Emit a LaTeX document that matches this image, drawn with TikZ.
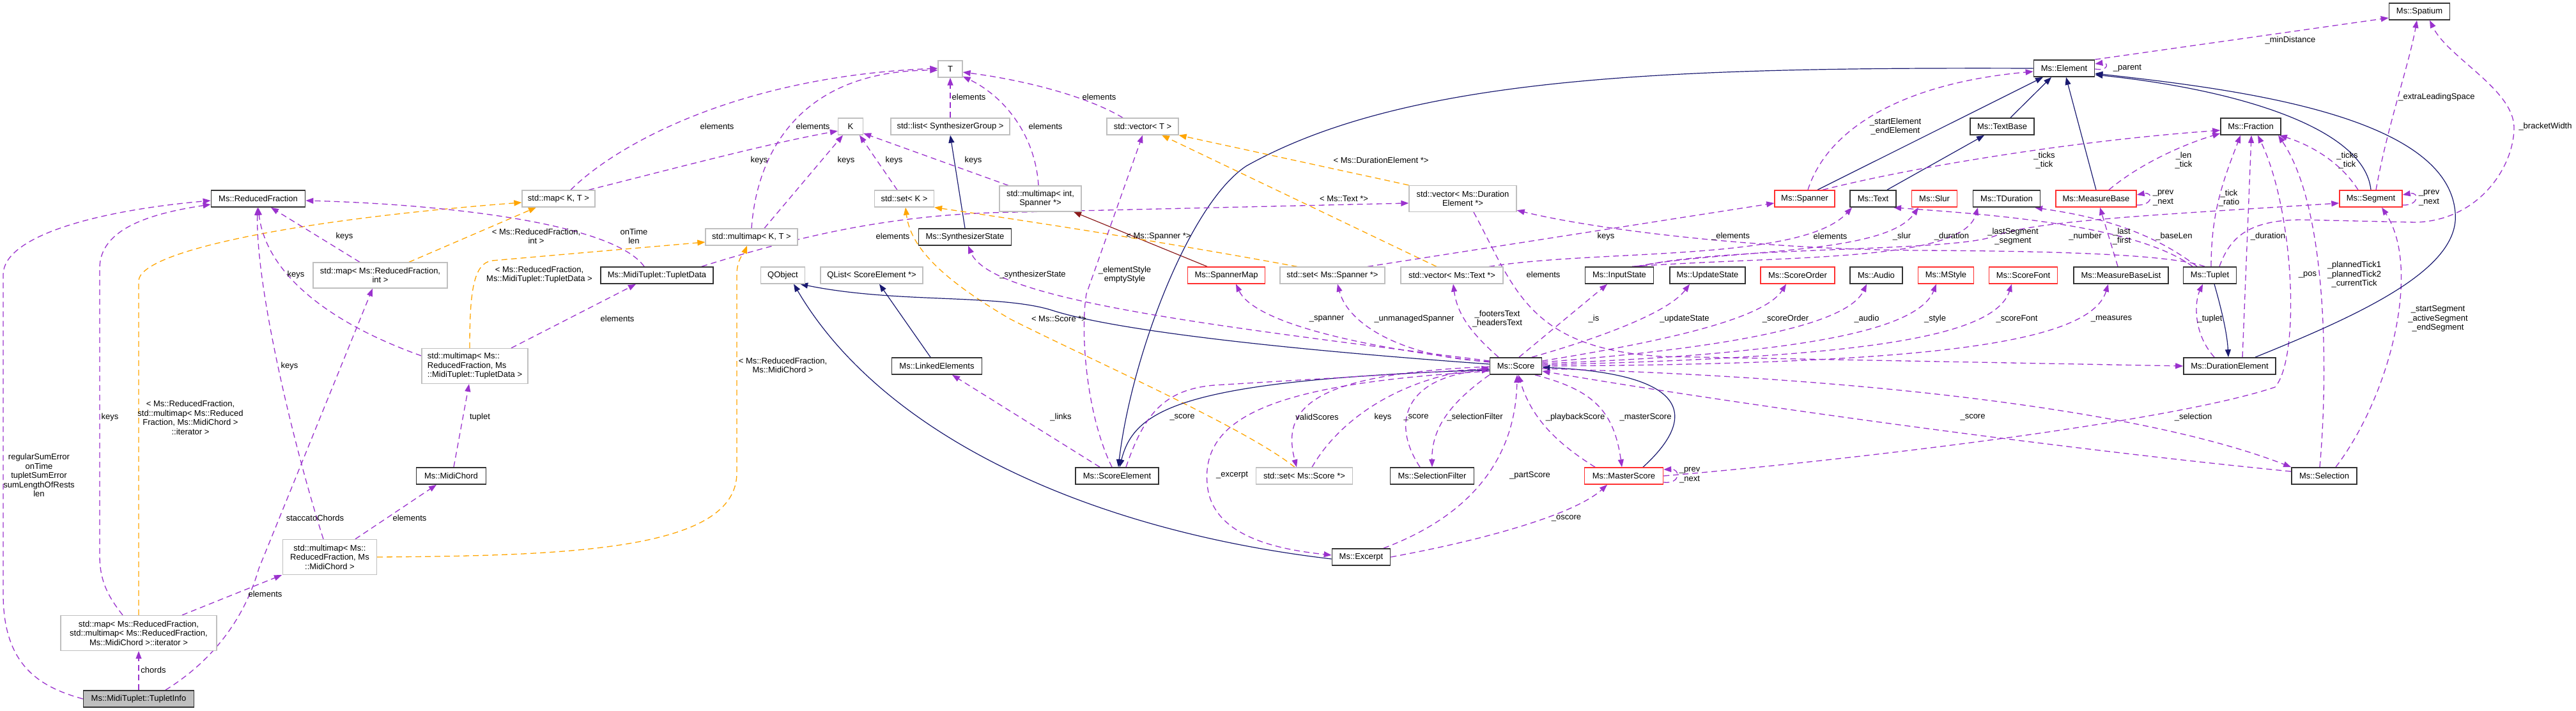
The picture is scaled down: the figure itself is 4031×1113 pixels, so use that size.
\documentclass[tikz,border=0pt]{standalone}
\usepackage{fontspec}
\setmainfont{Liberation Sans}
\usetikzlibrary{arrows.meta}
\pgfdeclarelayer{background}
\pgfsetlayers{background,main}
\definecolor{purp}{HTML}{9A32CD}
\definecolor{orng}{HTML}{FFA500}
\definecolor{mblue}{HTML}{191970}
\definecolor{fbrick}{HTML}{8B1A1A}
\definecolor{gbord}{HTML}{BFBFBF}
\definecolor{rbord}{HTML}{FF3030}
\definecolor{dbord}{HTML}{333333}
\begin{document}
\begin{tikzpicture}[x=1pt,y=-1pt,
  font=\fontsize{13}{14.5}\selectfont,
  nbase/.style={draw, minimum height=26pt, inner sep=0pt, align=center, fill=white},
  ndoc/.style={nbase, draw=dbord, line width=1.7pt},
  ngray/.style={nbase, draw=gbord, line width=1.3pt},
  nred/.style={nbase, draw=rbord, line width=1.5pt},
  lbl/.style={align=center, inner sep=0pt},
  tipa/.style={-{Triangle[length=12pt,width=9pt]}},
  euse/.style={draw=purp, line width=1.3pt, dash pattern=on 9pt off 6pt, tipa},
  etmpl/.style={draw=orng, line width=1.3pt, dash pattern=on 9pt off 6pt, tipa},
  einh/.style={draw=mblue, line width=1.2pt, tipa},
  eprot/.style={draw=fbrick, line width=1.2pt, tipa}
]
\path[use as bounding box] (0,0) rectangle (4031,1113);

% ---------- nodes ----------
\node[ndoc, minimum width=147pt] (rf) at (404,311) {Ms::ReducedFraction};
\node[ngray, minimum width=114pt] (mapKT) at (874,311) {std::map< K, T >};
\node[ngray, minimum width=210pt, minimum height=40pt] (mapRFint) at (595,431) {std::map< Ms::ReducedFraction,\\ int >};
\node[ngray, minimum width=166pt, minimum height=55pt, align=left] (mmRFTD) at (743,573) {std::multimap< Ms::\\ReducedFraction, Ms\\::MidiTuplet::TupletData >};
\node[ndoc, minimum width=176pt] (td) at (1028,431) {Ms::MidiTuplet::TupletData};
\node[ndoc, minimum width=109pt] (midichord) at (706,745) {Ms::MidiChord};
\node[ngray, minimum width=147pt, minimum height=55pt] (mmRFMC) at (516,872) {std::multimap< Ms::\\ReducedFraction, Ms\\::MidiChord >};
\node[ngray, minimum width=244pt, minimum height=55pt] (mapRFit) at (217,991) {std::map< Ms::ReducedFraction,\\ std::multimap< Ms::ReducedFraction,\\ Ms::MidiChord >::iterator >};
\node[ndoc, minimum width=173pt, fill=gbord] (ti) at (217,1094) {Ms::MidiTuplet::TupletInfo};
\node[ngray, minimum width=38pt] (T) at (1487,108) {T};
\node[ngray, minimum width=39pt] (K) at (1331,198) {K};
\node[ngray, minimum width=186pt] (listSG) at (1487,198) {std::list< SynthesizerGroup >};
\node[ngray, minimum width=112pt] (vecT) at (1788,198) {std::vector< T >};
\node[ngray, minimum width=93pt] (setK) at (1415,311) {std::set< K >};
\node[ngray, minimum width=128pt, minimum height=40pt] (mmIntSp) at (1628,311) {std::multimap< int,\\ Spanner *>};
\node[ngray, minimum width=144pt] (mmKT) at (1176,371) {std::multimap< K, T >};
\node[ndoc, minimum width=145pt] (synth) at (1510,371) {Ms::SynthesizerState};
\node[ngray, minimum width=69pt] (qobj) at (1225,431) {QObject};
\node[ngray, minimum width=160pt] (qlist) at (1364,431) {QList< ScoreElement *>};
\node[nred, minimum width=121pt] (spmap) at (1919,431) {Ms::SpannerMap};
\node[ndoc, minimum width=141pt] (linked) at (1466,573) {Ms::LinkedElements};
\node[ndoc, minimum width=130pt] (scoreel) at (1748,745) {Ms::ScoreElement};
\node[ngray, minimum width=151pt] (setScore) at (2041,745) {std::set< Ms::Score *>};
\node[ngray, minimum width=168pt, minimum height=41pt] (vecDE) at (2289,311) {std::vector< Ms::Duration\\Element *>};
\node[nred, minimum width=94pt] (spanner) at (2824,311) {Ms::Spanner};
\node[ndoc, minimum width=72pt] (text) at (2931,311) {Ms::Text};
\node[ngray, minimum width=164pt] (setSp) at (2085,431) {std::set< Ms::Spanner *>};
\node[ngray, minimum width=160pt] (vecText) at (2272,431) {std::vector< Ms::Text *>};
\node[ndoc, minimum width=107pt] (inputst) at (2534,431) {Ms::InputState};
\node[ndoc, minimum width=118pt] (updst) at (2672,431) {Ms::UpdateState};
\node[nred, minimum width=116pt] (scoreorder) at (2813,431) {Ms::ScoreOrder};
\node[ndoc, minimum width=82pt] (audio) at (2936,431) {Ms::Audio};
\node[ndoc, minimum width=81pt] (score) at (2372,573) {Ms::Score};
\node[ndoc, minimum width=131pt] (selfilter) at (2241,745) {Ms::SelectionFilter};
\node[nred, minimum width=123pt] (master) at (2541,745) {Ms::MasterScore};
\node[ndoc, minimum width=91pt] (excerpt) at (2130,872) {Ms::Excerpt};
\node[ndoc, minimum width=95pt] (spatium) at (3786,18) {Ms::Spatium};
\node[ndoc, minimum width=95pt] (element) at (3230,107) {Ms::Element};
\node[ndoc, minimum width=100pt] (textbase) at (3133,198) {Ms::TextBase};
\node[ndoc, minimum width=94pt] (fraction) at (3522,198) {Ms::Fraction};
\node[nred, minimum width=71pt] (slur) at (3027,311) {Ms::Slur};
\node[ndoc, minimum width=105pt] (tdur) at (3140,311) {Ms::TDuration};
\node[nred, minimum width=126pt] (mbase) at (3280,311) {Ms::MeasureBase};
\node[nred, minimum width=98pt] (segment) at (3710,311) {Ms::Segment};
\node[nred, minimum width=87pt] (mstyle) at (3045,431) {Ms::MStyle};
\node[nred, minimum width=107pt] (scorefont) at (3166,431) {Ms::ScoreFont};
\node[ndoc, minimum width=148pt] (mbl) at (3319,431) {Ms::MeasureBaseList};
\node[ndoc, minimum width=83pt] (tuplet) at (3458,431) {Ms::Tuplet};
\node[ndoc, minimum width=144pt] (durel) at (3489,573) {Ms::DurationElement};
\node[ndoc, minimum width=102pt] (selection) at (3637,745) {Ms::Selection};

% ---------- labels ----------
\node[lbl] (l1) at (61,744) {regularSumError\\onTime\\tupletSumError\\sumLengthOfRests\\len};
\node[lbl] (l2) at (172,653) {keys};
\node[lbl] (l3) at (298,654) {< Ms::ReducedFraction,\\std::multimap< Ms::Reduced\\Fraction, Ms::MidiChord >\\::iterator >};
\node[lbl] (l4) at (539,370) {keys};
\node[lbl] (l5) at (839,370) {< Ms::ReducedFraction,\\int >};
\node[lbl] (l6) at (992,370) {onTime\\len};
\node[lbl] (l7) at (463,430) {keys};
\node[lbl] (l8) at (966,499) {elements};
\node[lbl] (l9) at (844,430) {< Ms::ReducedFraction,\\Ms::MidiTuplet::TupletData >};
\node[lbl] (l10) at (453,573) {keys};
\node[lbl] (l11) at (641,811) {elements};
\node[lbl] (l12) at (751,653) {tuplet};
\node[lbl] (l13) at (1225,572) {< Ms::ReducedFraction,\\Ms::MidiChord >};
\node[lbl] (l14) at (415,930) {elements};
\node[lbl] (l15) at (240,1049) {chords};
\node[lbl] (l16) at (493,811) {staccatoChords};
\node[lbl] (l17) at (1122,198) {elements};
\node[lbl] (l18) at (1188,251) {keys};
\node[lbl] (l19) at (1272,198) {elements};
\node[lbl] (l20) at (1324,251) {keys};
\node[lbl] (l21) at (1399,251) {keys};
\node[lbl] (l22) at (1523,251) {keys};
\node[lbl] (l23) at (1636,198) {elements};
\node[lbl] (l24) at (1516,152) {elements};
\node[lbl] (l25) at (1720,152) {elements};
\node[lbl] (l28) at (1813,370) {< Ms::Spanner *>};
\node[lbl] (l29) at (1657,499) {< Ms::Score *>};
\node[lbl] (l30) at (2164,653) {keys};
\node[lbl] (l31) at (2061,653) {validScores};
\node[lbl] (l32) at (2216,653) {\_score};
\node[lbl] (l33) at (2308,653) {\_selectionFilter};
\node[lbl] (l34) at (2465,653) {\_playbackScore};
\node[lbl] (l35) at (2575,653) {\_masterScore};
\node[lbl] (l37) at (2644,744) {\_prev\\\_next};
\node[lbl] (l38) at (2394,744) {\_partScore};
\node[lbl] (l39) at (2451,811) {\_oscore};
\node[lbl] (l40) at (1928,744) {\_excerpt};
\node[lbl] (l46) at (1850,653) {\_score};
\node[lbl] (l47) at (1660,653) {\_links};
\node[lbl] (l48) at (1760,430) {\_elementStyle\\emptyStyle};
\node[lbl] (l49) at (1616,430) {\_synthesizerState};
\node[lbl] (l50) at (2076,499) {\_spanner};
\node[lbl] (l51) at (2213,499) {\_unmanagedSpanner};
\node[lbl] (l52) at (2343,499) {\_footersText\\\_headersText};
\node[lbl] (l53) at (2494,499) {\_is};
\node[lbl] (l54) at (2636,499) {\_updateState};
\node[lbl] (l55) at (2794,499) {\_scoreOrder};
\node[lbl] (l56) at (2921,499) {\_audio};
\node[lbl] (l57) at (3028,499) {\_style};
\node[lbl] (l58) at (3156,499) {\_scoreFont};
\node[lbl] (l59) at (3304,499) {\_measures};
\node[lbl] (l60) at (2415,430) {elements};
\node[lbl] (l61) at (1397,370) {elements};
\node[lbl] (l62) at (2161,251) {< Ms::DurationElement *>};
\node[lbl] (l63) at (2103,311) {< Ms::Text *>};
\node[lbl] (l64) at (2708,370) {\_elements};
\node[lbl] (l65) at (2513,370) {keys};
\node[lbl] (l66) at (2864,370) {elements};
\node[lbl] (l67) at (2976,370) {\_slur};
\node[lbl] (l68) at (3054,370) {\_duration};
\node[lbl] (l69) at (3150,370) {\_lastSegment\\\_segment};
\node[lbl] (l70) at (3263,370) {\_number};
\node[lbl] (l71) at (3402,370) {\_baseLen};
\node[lbl] (l72) at (3320,370) {\_last\\\_first};
\node[lbl] (l73) at (3488,310) {\_tick\\\_ratio};
\node[lbl] (l74) at (3549,370) {\_duration};
\node[lbl] (l75) at (3611,430) {\_pos};
\node[lbl] (l76) at (3684,430) {\_plannedTick1\\\_plannedTick2\\\_currentTick};
\node[lbl] (l77) at (3815,499) {\_startSegment\\\_activeSegment\\\_endSegment};
\node[lbl] (l78) at (3432,653) {\_selection};
\node[lbl] (l79) at (3087,653) {\_score};
\node[lbl] (l80) at (3458,499) {\_tuplet};
\node[lbl] (l88) at (2966,198) {\_startElement\\\_endElement};
\node[lbl] (l89) at (3199,251) {\_ticks\\\_tick};
\node[lbl] (l90) at (3417,251) {\_len\\\_tick};
\node[lbl] (l91) at (3673,251) {\_ticks\\\_tick};
\node[lbl] (l92) at (3385,310) {\_prev\\\_next};
\node[lbl] (l93) at (3801,310) {\_prev\\\_next};
\node[lbl] (l94) at (3329,107) {\_parent};
\node[lbl] (l95) at (3584,63) {\_minDistance};
\node[lbl] (l96) at (3813,152) {\_extraLeadingSpace};
\node[lbl] (l97) at (3983,198) {\_bracketWidth};

% ---------- edges ----------
\begin{pgfonlayer}{background}
\draw[euse] (ti.west) .. controls (60,1075) and (5,1040) .. (5,930) -- (5,430) .. controls (5,370) and (150,330) .. ([yshift=-3pt]rf.west);
\draw[euse] ([xshift=-25pt]mapRFit.north) .. controls (170,935) and (156,910) .. (156,870) -- (156,420) .. controls (156,360) and (230,335) .. ([yshift=-9pt]rf.west);
\draw[etmpl] (mapRFit.north) -- (217,440) .. controls (217,395) and (450,345) .. ([yshift=-6pt]mapKT.west);
\draw[euse] ([xshift=-32pt]mapRFint.north) -- ([xshift=20pt]rf.south);
\draw[etmpl] ([xshift=45pt]mapRFint.north) -- ([xshift=-35pt]mapKT.south);
\draw[euse] ([xshift=-20pt]td.north) .. controls (960,350) and (700,320) .. ([yshift=-3pt]rf.east);
\draw[euse] ([yshift=16pt]mmRFTD.west) .. controls (500,500) and (415,420) .. (rf.south);
\draw[euse] ([xshift=57pt]mmRFTD.north) -- ([xshift=-33pt]td.south);
\draw[etmpl] ([xshift=-8pt]mmRFTD.north) .. controls (735,460) and (740,412) .. (770,408) -- ([yshift=-8pt]mmKT.west);
\draw[euse] ([xshift=-10pt]mmRFMC.north) .. controls (460,700) and (400,450) .. ([xshift=-1pt]rf.south);
\draw[euse] ([xshift=40pt]mmRFMC.north) -- ([xshift=-23pt]midichord.south);
\draw[euse] ([xshift=4pt]midichord.north) -- ([xshift=-9pt]mmRFTD.south);
\draw[etmpl] (mmRFMC.east) .. controls (900,870) and (1153,860) .. (1153,740) -- (1153,430) .. controls (1153,405) and (1165,395) .. ([xshift=-7pt]mmKT.south);
\draw[euse] ([xshift=68pt]mapRFit.north) -- ([xshift=-75pt]mmRFMC.south);
\draw[euse] (ti.north) -- (mapRFit.south);
\draw[euse] ([xshift=42pt]ti.north) .. controls (340,1030) and (385,960) .. (405,890) -- ([xshift=-12pt]mapRFint.south);
\draw[euse] ([xshift=19pt]mapKT.north) .. controls (960,230) and (1150,120) .. ([yshift=1pt]T.west);
\draw[euse] ([xshift=47pt]mapKT.north) .. controls (1050,265) and (1200,225) .. ([yshift=-7pt]K.west);
\draw[euse] (mmKT.north) .. controls (1185,230) and (1260,110) .. ([yshift=-2pt]T.west);
\draw[euse] ([xshift=20pt]mmKT.north) -- ([xshift=-12pt]K.south);
\draw[euse] ([xshift=-11pt]setK.north) -- ([xshift=14pt]K.south);
\draw[euse] ([xshift=-50pt]mmIntSp.north) -- ([yshift=3pt]K.south east);
\draw[euse] ([xshift=-3pt]mmIntSp.north) .. controls (1620,210) and (1570,150) .. ([yshift=2pt]T.south east);
\draw[euse] (listSG.north) -- (T.south);
\draw[euse] ([xshift=-31pt]vecT.north) .. controls (1700,150) and (1600,125) .. ([yshift=-5pt]T.east);
\draw[einh] (synth.north) -- (listSG.south);
\draw[eprot] ([xshift=-30pt]spmap.north) -- ([xshift=52pt]mmIntSp.south);
\draw[etmpl] ([xshift=-55pt]setSp.north) .. controls (1800,375) and (1600,345) .. (setK.south east);
\draw[etmpl] ([xshift=-15pt]setScore.north) .. controls (1950,670) and (1700,560) .. (1580,499) .. controls (1480,440) and (1425,390) .. ([xshift=2pt]setK.south);
\draw[euse] ([xshift=12pt]setScore.north) .. controls (2100,650) and (2200,590) .. ([yshift=-3pt]score.west);
\draw[euse] ([yshift=-1pt]score.west) .. controls (2050,585) and (2005,640) .. ([xshift=-12pt]setScore.north);
\draw[euse] ([xshift=-19pt]selfilter.north) .. controls (2175,660) and (2200,590) .. ([yshift=-6pt]score.west);
\draw[euse] (score.south west) .. controls (2270,630) and (2240,670) .. (selfilter.north);
\draw[euse] ([xshift=-45pt]master.north) .. controls (2430,690) and (2395,650) .. ([xshift=4pt]score.south);
\draw[euse] ([xshift=30pt]score.south) .. controls (2490,610) and (2525,640) .. ([xshift=-3pt]master.north);
\draw[einh] ([xshift=30pt]master.north) .. controls (2660,650) and (2640,585) .. ([yshift=-2pt]score.east);
\draw[euse] ([yshift=-10pt]master.east) .. controls (2630,758) and (2630,734) .. ([yshift=10pt]master.east);
\draw[euse] ([xshift=35pt]excerpt.north) .. controls (2320,800) and (2372,700) .. ([xshift=2pt]score.south);
\draw[euse] (excerpt.east) .. controls (2350,840) and (2470,800) .. ([xshift=-26pt]master.south);
\draw[euse] ([yshift=-8pt]score.west) .. controls (2000,600) and (1880,650) .. (1889,757) .. controls (1895,840) and (2000,860) .. ([yshift=3pt]excerpt.west);
\draw[einh] ([yshift=-3pt]excerpt.west) .. controls (1700,830) and (1380,680) .. ([xshift=17pt]qobj.south);
\draw[einh] ([yshift=3pt]score.west) .. controls (2050,550) and (1750,520) .. (1644,485) .. controls (1560,460) and (1400,475) .. ([xshift=-8pt]qobj.south east);
\draw[einh] ([xshift=-10pt]linked.north) -- ([xshift=12pt]qlist.south);
\draw[einh] (element.west) .. controls (2600,105) and (2200,120) .. (1950,260) .. controls (1860,320) and (1770,560) .. ([xshift=2pt]scoreel.north);
\draw[einh] ([yshift=-6pt]score.west) .. controls (1850,595) and (1775,640) .. ([xshift=4pt]scoreel.north);
\draw[euse] ([xshift=14pt]scoreel.north) .. controls (1790,650) and (1820,610) .. (1900,603) -- ([yshift=-4pt]score.west);
\draw[euse] ([xshift=-27pt]scoreel.north) -- ([xshift=24pt]linked.south);
\draw[euse] ([xshift=-8pt]scoreel.north) .. controls (1700,650) and (1690,520) .. (1700,460) -- (vecT.south);
\draw[euse] ([yshift=8pt]score.west) .. controls (1900,510) and (1550,470) .. ([xshift=5pt]synth.south);
\draw[euse] ([yshift=6pt]score.west) .. controls (2100,540) and (1960,500) .. ([xshift=15pt]spmap.south);
\draw[euse] ([yshift=7pt]score.west) .. controls (2200,560) and (2110,510) .. ([xshift=8pt]setSp.south);
\draw[euse] ([xshift=-27pt]score.north) .. controls (2300,520) and (2280,490) .. ([xshift=2pt]vecText.south);
\draw[euse] ([xshift=5pt]score.north) -- ([xshift=-19pt]inputst.south);
\draw[euse] ([xshift=25pt]score.north) .. controls (2500,530) and (2610,490) .. ([xshift=-28pt]updst.south);
\draw[euse] ([yshift=8pt]score.east) .. controls (2600,535) and (2760,500) .. ([xshift=-18pt]scoreorder.south);
\draw[euse] ([yshift=6pt]score.east) .. controls (2700,545) and (2890,510) .. ([xshift=-15pt]audio.south);
\draw[euse] ([yshift=4pt]score.east) .. controls (2800,555) and (3000,520) .. ([xshift=-15pt]mstyle.south);
\draw[euse] ([yshift=2pt]score.east) .. controls (2900,560) and (3120,530) .. ([xshift=-18pt]scorefont.south);
\draw[euse] (score.east) .. controls (3000,570) and (3270,540) .. ([xshift=-20pt]mbl.south);
\draw[euse] ([xshift=17pt]vecDE.south) .. controls (2370,450) and (2390,545) .. (2600,558) -- (durel.west);
\draw[euse] ([xshift=70pt]td.north) .. controls (1250,370) and (1400,333) .. (1600,332) -- ([yshift=-7pt]vecDE.west);
\draw[etmpl] (vecDE.north west) -- (vecT.south east);
\draw[etmpl] ([xshift=-24pt]vecText.north) -- ([xshift=30pt]vecT.south);
\draw[euse] ([xshift=-8pt]tuplet.north) .. controls (3400,400) and (3250,393) .. (3000,392) .. controls (2750,390) and (2500,360) .. ([yshift=3pt]vecDE.south east);
\draw[euse] ([xshift=55pt]setSp.north) -- ([yshift=-7pt]spanner.west);
\draw[euse] ([xshift=58pt]vecText.north) .. controls (2500,390) and (2820,410) .. ([xshift=-33pt]text.south);
\draw[euse] ([xshift=26pt]inputst.north) .. controls (2700,390) and (2950,400) .. ([xshift=-25pt]slur.south);
\draw[euse] ([xshift=20pt]inputst.north) .. controls (2800,400) and (3070,410) .. ([xshift=-45pt]tdur.south);
\draw[euse] ([xshift=30pt]inputst.north) .. controls (2700,385) and (3050,395) .. (3120,370) .. controls (3180,345) and (3400,335) .. ([yshift=-7pt]segment.west);
\draw[euse] ([xshift=-27pt]tuplet.north) .. controls (3340,350) and (3100,335) .. ([xshift=32pt]text.south);
\draw[euse] ([xshift=-20pt]tuplet.north) .. controls (3350,350) and (3250,335) .. ([xshift=44pt]tdur.south);
\draw[euse] ([xshift=-5pt]mbl.north) -- ([xshift=6pt]mbase.south);
\draw[euse] ([xshift=2pt]tuplet.north) .. controls (3460,330) and (3480,280) .. ([xshift=-16pt]fraction.south);
\draw[euse] ([xshift=20pt]durel.north) -- ([xshift=1pt]fraction.south);
\draw[euse] (master.east) .. controls (2900,720) and (3400,660) .. (3560,606) .. controls (3600,560) and (3590,330) .. ([xshift=11pt]fraction.south);
\draw[euse] ([xshift=-7pt]selection.north) .. controls (3642,600) and (3645,330) .. ([xshift=43pt]fraction.south);
\draw[euse] ([xshift=18pt]selection.north) .. controls (3740,620) and (3790,420) .. ([xshift=17pt]segment.south);
\draw[euse] ([yshift=-4pt]score.east) .. controls (2900,590) and (3350,640) .. (selection.north west);
\draw[euse] ([yshift=7pt]selection.west) .. controls (3200,700) and (2700,630) .. ([yshift=-8pt]score.east);
\draw[euse] ([xshift=-24pt]durel.north) .. controls (3430,520) and (3435,470) .. ([xshift=-11pt]tuplet.south);
\draw[einh] ([xshift=7pt]tuplet.south) .. controls (3475,480) and (3485,520) .. ([xshift=-2pt]durel.north);
\draw[einh] ([xshift=40pt]durel.north) .. controls (3700,490) and (3850,420) .. (3842,333) .. controls (3830,180) and (3500,140) .. ([yshift=-8pt]element.east);
\draw[einh] (segment.north) .. controls (3700,200) and (3500,140) .. ([yshift=-10pt]element.east);
\draw[einh] (mbase.north) -- ([xshift=3pt]element.south);
\draw[einh] ([xshift=13pt]textbase.north) -- ([xshift=-20pt]element.south);
\draw[einh] ([xshift=22pt]text.north) -- ([xshift=-28pt]textbase.south);
\draw[einh] ([xshift=20pt]spanner.north) -- ([xshift=-33pt]element.south);
\draw[euse] ([xshift=5pt]spanner.north) .. controls (2860,200) and (2980,130) .. ([yshift=-5pt]element.west);
\draw[euse] ([xshift=28pt]spanner.north) .. controls (3000,260) and (3250,220) .. ([yshift=-6pt]fraction.west);
\draw[euse] ([xshift=20pt]mbase.north) .. controls (3350,255) and (3420,225) .. ([yshift=3pt]fraction.south west);
\draw[euse] ([xshift=-20pt]segment.north) .. controls (3660,250) and (3610,225) .. ([xshift=-3pt]fraction.south east);
\draw[euse] ([yshift=-10pt]mbase.east) .. controls (3370,322) and (3370,300) .. ([yshift=6pt]mbase.east);
\draw[euse] ([yshift=-10pt]segment.east) .. controls (3786,322) and (3786,300) .. ([yshift=6pt]segment.east);
\draw[euse] ([yshift=-1pt]element.east) .. controls (3300,112) and (3300,97) .. ([yshift=7pt]element.east);
\draw[euse] (element.north east) -- ([yshift=-10pt]spatium.west);
\draw[euse] ([xshift=8pt]segment.north) .. controls (3735,200) and (3770,100) .. ([xshift=-4pt]spatium.south);
\draw[euse] ([xshift=15pt]tuplet.north) .. controls (3490,370) and (3520,345) .. (3600,344) -- (3780,348) .. controls (3880,345) and (3934,260) .. (3934,200) .. controls (3934,140) and (3830,90) .. ([xshift=16pt]spatium.south);
\end{pgfonlayer}
\end{tikzpicture}
\end{document}
